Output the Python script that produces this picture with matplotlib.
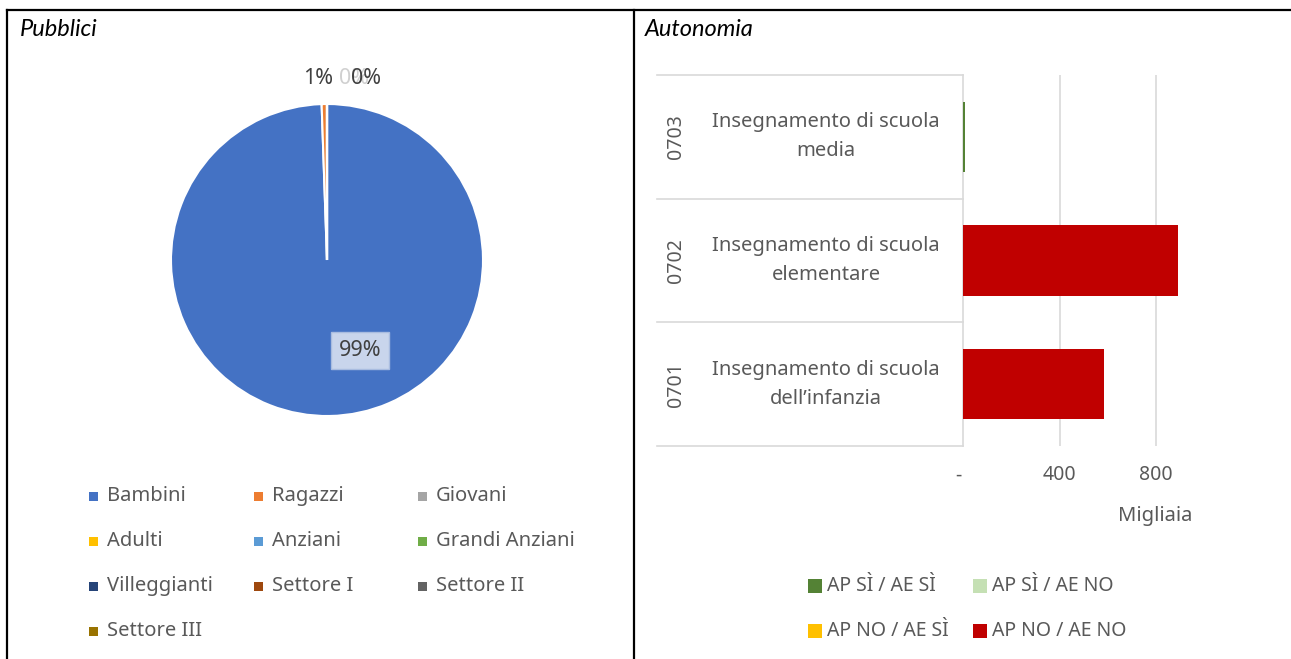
import matplotlib
matplotlib.use("Agg")
import matplotlib.pyplot as plt
from matplotlib.lines import Line2D
from matplotlib.patches import Rectangle
from matplotlib.transforms import blended_transform_factory, ScaledTranslation

# --- data -------------------------------------------------------------
pie_labels = ["Bambini", "Ragazzi", "Giovani", "Adulti", "Anziani",
              "Grandi Anziani", "Villeggianti", "Settore I", "Settore II", "Settore III"]
pie_values = [99.45, 0.55, 0, 0, 0, 0, 0, 0, 0, 0]
pie_colors = ["#4472C4", "#ED7D31", "#A5A5A5", "#FFC000", "#5B9BD5",
              "#70AD47", "#264478", "#9E480E", "#636363", "#997300"]

codes = ["0701", "0702", "0703"]
descr = ["Insegnamento di scuola\ndell\u2019infanzia",
         "Insegnamento di scuola\nelementare",
         "Insegnamento di scuola\nmedia"]
series_names = ["AP S\u00cc / AE S\u00cc", "AP S\u00cc / AE NO", "AP NO / AE S\u00cc", "AP NO / AE NO"]
series_colors = ["#548235", "#C5E0B4", "#FFC000", "#C00000"]
ap_si_ae_si = [0, 0, 8]
ap_si_ae_no = [0, 0, 0]
ap_no_ae_si = [0, 0, 0]
ap_no_ae_no = [584, 891, 0]
x_ticks = [0, 400, 800]
x_ticklabels = ["-", "400", "800"]

W, H = 1291, 659
FONT = "Noto Sans"
GREY = "#595959"
GRID = "#D9D9D9"


def fx(x):
    return x / W


def fy(y):
    return 1 - y / H


fig = plt.figure(figsize=(W / 100, H / 100), dpi=100)
plt.rcParams["font.family"] = [FONT, "DejaVu Sans"]

# table borders
for xs, ys in [((7, W), (10, 10)), ((7, 7), (10, H)), ((634, 634), (10, H))]:
    fig.add_artist(Line2D([fx(xs[0]), fx(xs[1])], [fy(ys[0]), fy(ys[1])],
                          color="black", lw=1.6, transform=fig.transFigure))

fig.text(fx(20), fy(30), "Pubblici", family="Lato", style="italic", fontsize=17,
         va="center", ha="left", color="black")
fig.text(fx(645), fy(30), "Autonomia", family="Lato", style="italic", fontsize=17,
         va="center", ha="left", color="black")

# --- pie ----------------------------------------------------------------
cx, cy, r = 327, 260, 156
half = r * 1.25
ax_pie = fig.add_axes([fx(cx - half), fy(cy + half), 2 * half / W, 2 * half / H])
wedges, _ = ax_pie.pie(pie_values, colors=pie_colors, startangle=90, counterclock=False,
                       wedgeprops=dict(edgecolor="white", linewidth=1.5))
ax_pie.set_xlim(-1.25, 1.25)
ax_pie.set_ylim(-1.25, 1.25)
ax_pie.set_aspect("equal")

total = sum(pie_values)
pcts = [f"{v / total * 100:.0f}%" for v in pie_values]
ax_pie.text(0.21, -0.58, pcts[0], ha="center", va="center", fontsize=15.5, color="#404040",
            bbox=dict(boxstyle="square,pad=0.35", facecolor="#C9D5EC", edgecolor="#A9BCE0", lw=1))
ax_pie.text(-0.06, 1.165, pcts[1], ha="center", va="center", fontsize=15.5, color="#404040")
# several 0% labels stacked on each other, as in the source
ax_pie.text(0.17, 1.165, pcts[2], ha="center", va="center", fontsize=15.5, color="#D0D0D0")
ax_pie.text(0.25, 1.165, pcts[3], ha="center", va="center", fontsize=15.5, color="#404040")

# pie legend, row-major, 3 columns
col_x = [93, 258, 422]
row_y = [496, 541, 586, 631]
for i, (lab, col) in enumerate(zip(pie_labels, pie_colors)):
    x0 = col_x[i % 3]
    y0 = row_y[i // 3]
    fig.add_artist(Rectangle((fx(x0 - 4.5), fy(y0 + 4.5)), 9 / W, 9 / H,
                             facecolor=col, edgecolor="none", transform=fig.transFigure))
    fig.text(fx(x0 + 14), fy(y0), lab, fontsize=14.5, color=GREY, va="center", ha="left")

# --- bars ---------------------------------------------------------------
x0_px, top_px, bot_px = 963, 75, 446
xmax = 1000
px_per_unit = 96.5 / 400
ax = fig.add_axes([fx(x0_px), fy(bot_px), xmax * px_per_unit / W, (bot_px - top_px) / H])
y = list(range(len(codes)))
left = [0] * len(codes)
for vals, name, col in zip([ap_si_ae_si, ap_si_ae_no, ap_no_ae_si, ap_no_ae_no],
                           series_names, series_colors):
    ax.barh(y, vals, left=left, height=0.57, color=col, edgecolor="none",
            linewidth=0, label=name, zorder=3)
    left = [a + b for a, b in zip(left, vals)]

ax.set_xlim(0, xmax)
ax.set_ylim(-0.5, len(codes) - 0.5)
ax.set_xticks(x_ticks)
ax.set_xticklabels(x_ticklabels)
ax.set_yticks([])
for s in ["top", "right", "bottom"]:
    ax.spines[s].set_visible(False)
ax.spines["left"].set_color(GRID)
ax.spines["left"].set_linewidth(1.2)
ax.tick_params(axis="x", length=0, pad=14, labelsize=14, labelcolor=GREY)
dash = ax.get_xticklabels()[0]
dash.set_transform(dash.get_transform() + ScaledTranslation(-5 / 100, 0, fig.dpi_scale_trans))
for t in x_ticks[1:]:
    ax.axvline(t, color=GRID, lw=1.2, zorder=1)

# category label table on the left
trans = blended_transform_factory(ax.transAxes, ax.transData)
lx = (657 - x0_px) / (xmax * px_per_unit)
for b in [-0.5, 0.5, 1.5, 2.5]:
    ax.plot([lx, 0], [b, b], color=GRID, lw=1.2, transform=trans, clip_on=False)
code_x = (676 - x0_px) / (xmax * px_per_unit)
txt_x = (826 - x0_px) / (xmax * px_per_unit)
for yi, c, d in zip(y, codes, descr):
    ax.text(code_x, yi, c, rotation=90, ha="center", va="center", fontsize=14,
            color=GREY, transform=trans)
    ax.text(txt_x, yi, d, ha="center", va="center", fontsize=14.5, color=GREY,
            transform=trans, linespacing=1.6)

fig.text(fx(1155), fy(516), "Migliaia", fontsize=14.5, color=GREY, ha="center", va="center")

# bar legend
for i, (name, col) in enumerate(zip(series_names, series_colors)):
    x0 = [815, 980][i % 2]
    y0 = [586, 631][i // 2]
    fig.add_artist(Rectangle((fx(x0 - 7), fy(y0 + 7)), 14 / W, 14 / H,
                             facecolor=col, edgecolor="none", transform=fig.transFigure))
    fig.text(fx(x0 + 12), fy(y0), name, fontsize=14, color=GREY, va="center", ha="left")

fig.savefig("out.png", dpi=100)
